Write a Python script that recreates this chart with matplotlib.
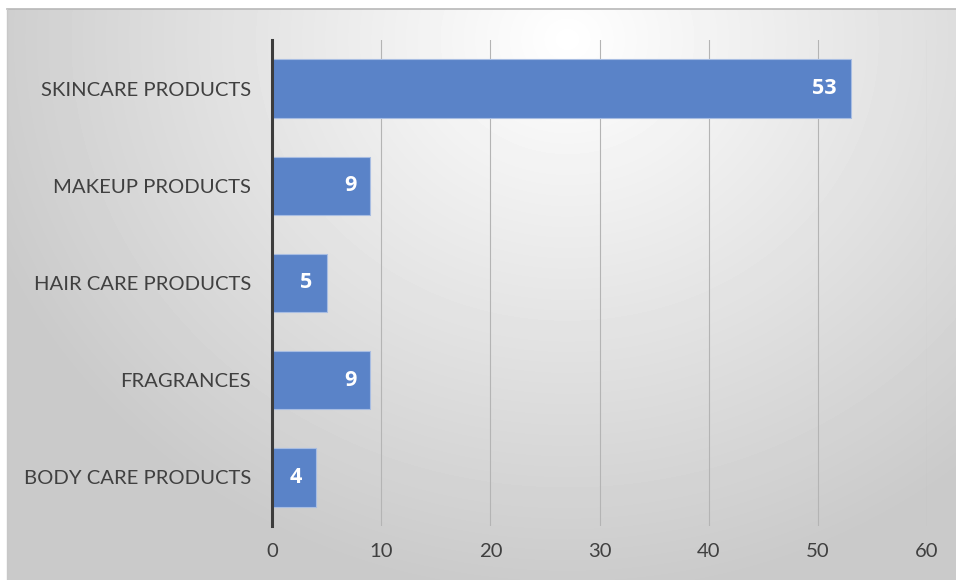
import numpy as np
import matplotlib.pyplot as plt

categories = ["SKINCARE PRODUCTS", "MAKEUP PRODUCTS", "HAIR CARE PRODUCTS",
              "FRAGRANCES", "BODY CARE PRODUCTS"]
counts = [53, 9, 5, 9, 4]
xticks = [0, 10, 20, 30, 40, 50, 60]

plt.rcParams['font.family'] = ['Lato', 'DejaVu Sans']

W, H = 956, 580
fig = plt.figure(figsize=(W / 100, H / 100), dpi=100)
fig.patch.set_facecolor('white')

# soft radial background, bright near the top centre
bg = fig.add_axes([7 / W, 0, (W - 7) / W, (H - 9) / H])
yy, xx = np.mgrid[0:H - 9, 0:W - 7]
t = np.sqrt(((xx - 560) / 620.0) ** 2 + ((yy - 30) / 560.0) ** 2)
t = np.clip(t, 0, 1)
shade = 1.0 - 0.21 * t
bg.imshow(shade, cmap='gray', vmin=0, vmax=1, aspect='auto',
          interpolation='bilinear')
bg.axis('off')
fig.add_artist(plt.Line2D([7 / W, 1], [1 - 9 / H, 1 - 9 / H],
                          transform=fig.transFigure, color='#b8b8b8', lw=1.2))
fig.add_artist(plt.Line2D([7 / W, 7 / W], [0, 1 - 9 / H],
                          transform=fig.transFigure, color='#c8c8c8', lw=1.0))

ax = fig.add_axes([272 / W, 1 - 526 / H, (927 - 272) / W, 486 / H])
ax.patch.set_alpha(0)

ypos = np.arange(len(categories))
ax.barh(ypos, counts, height=0.6, color='#5a83c8', edgecolor='#a8bde2',
        linewidth=0.8, zorder=3)
for y, v in zip(ypos, counts):
    ax.annotate(str(v), (v, y), xytext=(-10, 0), textcoords='offset points',
                ha='right', va='center', color='white', fontsize=15.5,
                family=['Open Sans', 'DejaVu Sans'], fontweight='bold',
                zorder=4)

ax.set_xlim(0, 60)
ax.set_ylim(len(categories) - 0.5, -0.5)
ax.set_xticks(xticks)
ax.set_yticks(ypos)
ax.set_yticklabels(categories)
ax.tick_params(axis='both', length=0, labelsize=14.6, labelcolor='#404040')
ax.tick_params(axis='x', pad=12)
ax.tick_params(axis='y', pad=15)
ax.grid(axis='x', color='#b4b4b4', lw=0.8, zorder=1)
for s in ['top', 'right', 'bottom']:
    ax.spines[s].set_visible(False)
ax.spines['left'].set_color('#3c3c3c')
ax.spines['left'].set_linewidth(2.2)
ax.spines['left'].set_zorder(5)

fig.savefig('out.png', dpi=100)
